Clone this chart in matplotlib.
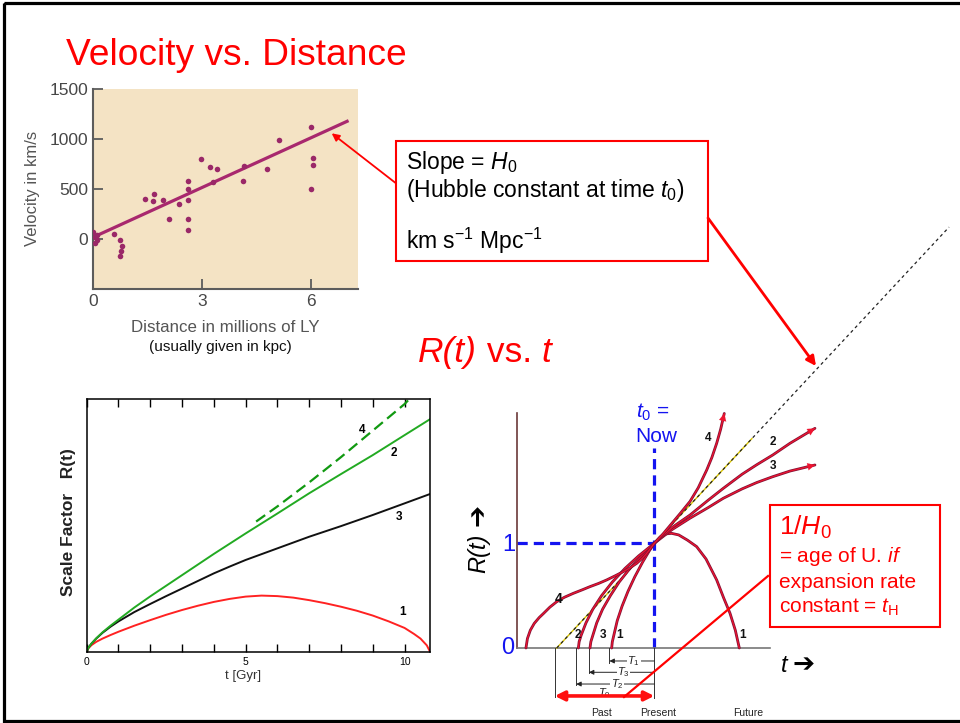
import matplotlib
matplotlib.use("Agg")
import matplotlib.pyplot as plt
import matplotlib.patheffects as pe
from matplotlib.patches import Rectangle

plt.rcParams["font.family"] = ["Liberation Sans", "DejaVu Sans"]
plt.rcParams["mathtext.fontset"] = "custom"
plt.rcParams["mathtext.rm"] = "Liberation Sans"
plt.rcParams["mathtext.it"] = "Liberation Sans:italic"
plt.rcParams["mathtext.bf"] = "Liberation Sans:bold"

# ---------------- Hubble diagram: velocity vs distance ----------------
distance_mly = [0.0, 0.05, 0.1, 0.05, 0.1, 0.57, 0.73, 0.8, 0.77, 0.75,
                1.44, 1.65, 1.68, 1.94, 2.08, 2.37, 2.63, 2.63, 2.63, 2.63,
                2.61, 2.97, 3.21, 3.41, 3.3, 4.17, 4.13, 4.79, 5.11, 6.01,
                6.05, 6.05, 6.01]
velocity_kms = [70, 20, -10, -40, 40, 50, -7, -63, -117, -163,
                403, 383, 450, 393, 203, 353, 587, 500, 393, 207,
                90, 800, 720, 703, 570, 737, 587, 700, 993, 1120,
                817, 743, 503]
fit_distance = [0.0, 7.0]
fit_velocity = [20, 1180]
hubble_xticks = [0, 3, 6]
hubble_yticks = [0, 500, 1000, 1500]

# ---------------- Scale factor vs time (Gyr) ----------------
t_closed = [0, 0.05, 0.15, 0.3, 0.5, 0.75, 1, 1.5, 2, 2.5, 3, 3.5, 4, 4.5, 5, 5.5,
            6, 6.5, 7, 7.5, 8, 8.5, 9, 9.5, 10, 10.3, 10.5, 10.7, 10.8]
R_closed = [0, 0.013, 0.026, 0.039, 0.052, 0.066, 0.079, 0.103, 0.125, 0.146,
            0.165, 0.182, 0.197, 0.209, 0.218, 0.222, 0.220, 0.214, 0.204, 0.192,
            0.178, 0.162, 0.143, 0.12, 0.094, 0.07, 0.052, 0.025, 0.0]
t_open = [0, 0.05, 0.15, 0.3, 0.5, 0.75, 1, 1.5, 2, 2.5, 3, 4, 5, 6, 7, 8, 9, 10, 10.8]
R_open = [0, 0.015, 0.032, 0.053, 0.077, 0.103, 0.127, 0.175, 0.219, 0.261,
          0.303, 0.387, 0.468, 0.547, 0.627, 0.703, 0.778, 0.857, 0.92]
t_flat = [0, 0.05, 0.15, 0.3, 0.5, 0.75, 1, 1.5, 2, 2.5, 3, 3.5, 4, 4.5, 5, 5.5,
          6, 6.5, 7, 7.5, 8, 8.5, 9, 9.5, 10, 10.8]
R_flat = [0, 0.015, 0.032, 0.052, 0.075, 0.099, 0.12, 0.157, 0.189, 0.22,
          0.25, 0.28, 0.31, 0.337, 0.363, 0.386, 0.409, 0.432, 0.455, 0.476,
          0.497, 0.519, 0.541, 0.564, 0.587, 0.624]
t_accel = [5.33, 6, 7, 8, 9, 10, 10.15]
R_accel = [0.515, 0.575, 0.67, 0.77, 0.875, 0.98, 1.0]
gyr_ticks = list(range(0, 11))
gyr_labels = ["0", "", "", "", "", "5", "", "", "", "", "10"]

# ---------------- Schematic R(t): time in units of 1/H0, present at 0 ----------------
c4_t = [-1.315, -1.30, -1.27, -1.23, -1.18, -1.134, -1.07, -1.0, -0.92, -0.83,
        -0.74, -0.659, -0.57, -0.488, -0.40, -0.318, -0.25, -0.18, -0.12, -0.078,
        -0.04, 0.0, 0.09, 0.18, 0.27, 0.366, 0.45, 0.537, 0.59, 0.639, 0.68, 0.717]
c4_R = [0.0, 0.09, 0.17, 0.235, 0.29, 0.331, 0.39, 0.442, 0.485, 0.522,
        0.555, 0.586, 0.617, 0.65, 0.69, 0.729, 0.765, 0.809, 0.86, 0.904,
        0.95, 1.0, 1.09, 1.19, 1.29, 1.40, 1.53, 1.70, 1.82, 1.955, 2.09, 2.24]
c2_t = [-0.778, -0.77, -0.75, -0.70, -0.63, -0.54, -0.43, -0.30, -0.16, 0.0,
        0.18, 0.366, 0.55, 0.707, 0.9, 1.049, 1.213, 1.39, 1.646]
c2_R = [0.0, 0.06, 0.12, 0.24, 0.37, 0.50, 0.63, 0.76, 0.88, 1.0,
        1.15, 1.27, 1.41, 1.525, 1.66, 1.75, 1.843, 1.955, 2.098]
c3_t = [-0.659, -0.65, -0.63, -0.59, -0.53, -0.45, -0.36, -0.25, -0.13, 0.0,
        0.18, 0.366, 0.55, 0.707, 0.9, 1.049, 1.213, 1.39, 1.646]
c3_R = [0.0, 0.06, 0.12, 0.24, 0.37, 0.50, 0.63, 0.76, 0.88, 1.0,
        1.13, 1.24, 1.34, 1.43, 1.52, 1.58, 1.636, 1.69, 1.748]
c1_t = [-0.437, -0.43, -0.415, -0.38, -0.33, -0.27, -0.20, -0.12, -0.05, 0.0,
        0.06, 0.12, 0.178, 0.25, 0.34, 0.434, 0.53, 0.639, 0.71, 0.776, 0.83, 0.871]
c1_R = [0.0, 0.06, 0.12, 0.26, 0.40, 0.54, 0.68, 0.82, 0.93, 1.0,
        1.06, 1.09, 1.095, 1.08, 1.03, 0.968, 0.85, 0.65, 0.48, 0.331, 0.17, 0.0]
tangent_t = [-1.0, 3.02]
tangent_R = [0.0, 4.02]
T_names = ["$T_1$", "$T_3$", "$T_2$", "$T_0$"]
T_values = [0.46, 0.67, 0.80, 1.02]

W, H = 960, 723
fig = plt.figure(figsize=(W / 100, H / 100), dpi=100)


def axes_px(left, top, right, bottom, **kw):
    return fig.add_axes([left / W, 1 - bottom / H, (right - left) / W, (bottom - top) / H], **kw)


# overlay in pixel coordinates for slide text and call-outs
ov = axes_px(0, 0, W, H)
ov.set_xlim(0, W)
ov.set_ylim(H, 0)
ov.axis("off")
ov.set_zorder(10)

renderer = fig.canvas.get_renderer()


def text_run(x, y, pieces, **common):
    """Draw consecutive text pieces on one baseline in the overlay."""
    for s, kw in pieces:
        opts = dict(common)
        opts.update(kw)
        t = ov.text(x, y, s, ha="left", va="baseline", **opts)
        x += t.get_window_extent(renderer).width
    return x


# ---- Hubble diagram ----
ax1 = axes_px(93, 89.3, 358, 289.3)
ax1.set_facecolor("#f4e3c4")
ax1.plot(fit_distance, fit_velocity, color="#a8286e", lw=2.3, zorder=2)
ax1.scatter(distance_mly, velocity_kms, s=16, color="#9a2868", linewidths=0, zorder=3)
ax1.set_xlim(0, 7.3)
ax1.set_ylim(-500, 1500)
ax1.set_xticks(hubble_xticks)
ax1.set_yticks(hubble_yticks)
for side in ("top", "right"):
    ax1.spines[side].set_visible(False)
for side in ("left", "bottom"):
    ax1.spines[side].set_color("#5c5c5c")
    ax1.spines[side].set_linewidth(1.5)
ax1.tick_params(direction="in", length=7, width=1.3, color="#5c5c5c",
                labelsize=12.5, labelcolor="#474747", pad=3.5)
ov.text(32, 188, "Velocity in km/s", rotation=90, ha="center", va="center",
        fontsize=12, color="#555555")
ov.text(225, 328, "Distance in millions of LY", ha="center", va="center",
        fontsize=12.2, color="#555555")
ov.text(220, 347, "(usually given in kpc)", ha="center", va="center",
        fontsize=11, color="#111111")

# ---- Scale factor vs time ----
ax2 = axes_px(86.7, 399, 430, 651.7)
ax2.plot(t_closed, R_closed, color="#ff2222", lw=1.4)
ax2.plot(t_flat, R_flat, color="#111111", lw=1.4)
ax2.plot(t_open, R_open, color="#22aa22", lw=1.4)
ax2.plot(t_accel, R_accel, color="#119911", lw=1.6, dashes=(5, 2.5))
ax2.set_xlim(0, 10.8)
ax2.set_ylim(0, 1)
ax2.set_xticks(gyr_ticks)
ax2.set_xticklabels(gyr_labels)
ax2.set_yticks([])
ax2.tick_params(axis="x", direction="in", length=5.5, width=1, top=True,
                labelsize=7.5, pad=4)
for sp in ax2.spines.values():
    sp.set_linewidth(1.1)
ov.text(243, 676, "t [Gyr]", ha="center", va="center", fontsize=9.5, color="#333333")
ov.text(68, 522, "Scale Factor   R(t)", rotation=90, ha="center", va="center",
        fontsize=12.5, fontweight="bold", color="#222222")
for lbl, (x, y) in zip(["4", "2", "3", "1"], [(362, 430), (394, 453), (399, 517), (403, 612)]):
    ov.text(x, y, lbl, ha="center", va="center", fontsize=8.5, fontweight="bold")

# ---- Schematic R(t) ----
x0px, y0px, sx, sy = 654.3, 648.0, 97.6, 104.7
L, T_, Rr, B = 500, 200, 960, 723
ax3 = axes_px(L, T_, Rr, B)
ax3.set_xlim((L - x0px) / sx, (Rr - x0px) / sx)
ax3.set_ylim((y0px - B) / sy, (y0px - T_) / sy)
ax3.axis("off")
axis_x = (516.7 - x0px) / sx

ax3.plot([axis_x, axis_x], [0, 2.245], color="#6b3838", lw=1.2, clip_on=False)
ax3.plot([axis_x, (770 - x0px) / sx], [0, 0], color="#777777", lw=1.2, clip_on=False)

# Hubble-time tangent line
ax3.plot([tangent_t[0], 1.0], [tangent_R[0], 2.0], color="#d9c400", lw=1.0, zorder=2)
ax3.plot(tangent_t, tangent_R, color="#222222", lw=0.9, dashes=(2.5, 2.5),
         clip_on=False, zorder=3)

# present epoch guides
blue = "#1414f0"
ax3.plot([0, 0], [0, 1.907], color=blue, lw=2.3, dashes=(3.2, 1.9), zorder=1)
ax3.plot([axis_x, 0], [1, 1], color=blue, lw=2.3, dashes=(3.2, 1.9), zorder=1)

red = "#ee1430"
curve_fx = [pe.Stroke(linewidth=2.0, foreground="#801236"), pe.Normal()]
for ct, cR, head in [(c1_t, c1_R, False), (c3_t, c3_R, True),
                     (c2_t, c2_R, True), (c4_t, c4_R, True)]:
    ax3.plot(ct, cR, color=red, lw=0.9, path_effects=curve_fx, zorder=4,
             solid_capstyle="round", solid_joinstyle="round")
    if head:
        ax3.annotate("", xy=(ct[-1], cR[-1]), xytext=(ct[-2], cR[-2]),
                     arrowprops=dict(arrowstyle="-|>", color=red, lw=0.1,
                                     mutation_scale=13, shrinkA=0, shrinkB=0),
                     zorder=5)

# look-back intervals below the axis
drop = [-0.143, -0.239, -0.353, -0.465]
row = [-0.124, -0.232, -0.344, -0.458]
for name, T, d, yrow in zip(T_names, T_values, drop, row):
    ax3.plot([-T, -T], [0, d], color="#333333", lw=0.7, clip_on=False)
    if name != "$T_0$":
        ax3.annotate("", xy=(-T, yrow), xytext=(0, yrow),
                     arrowprops=dict(arrowstyle="-|>", color="#222222", lw=0.7,
                                     mutation_scale=7, shrinkA=0, shrinkB=0),
                     annotation_clip=False)
        ax3.text(-T / 2 + 0.02, yrow, name, ha="center", va="center", fontsize=8,
                 color="#222222",
                 bbox=dict(facecolor="white", edgecolor="none", pad=0.3))
    else:
        ax3.text(-T / 2, yrow + 0.03, name, ha="center", va="center", fontsize=8,
                 color="#222222", zorder=1)
        ax3.annotate("", xy=(-T, yrow), xytext=(0, yrow),
                     arrowprops=dict(arrowstyle="<|-|>", color="#ff1010", lw=2.6,
                                     mutation_scale=14, shrinkA=0, shrinkB=0),
                     annotation_clip=False, zorder=6)
ax3.plot([0, 0], [0, -0.478], color="#333333", lw=0.7, clip_on=False)

for lbl, x in [("Past", 601.7), ("Present", 658), ("Future", 748)]:
    ov.text(x, 713, lbl, ha="center", va="center", fontsize=7.5, color="#222222")

for lbl, (x, y), fs in [("4", (708, 438), 8.5), ("2", (772.7, 441.7), 8.5),
                        ("3", (772.7, 466), 8.5), ("4", (559, 599.3), 10),
                        ("2", (578.3, 635), 8.5), ("3", (603.3, 635), 8.5),
                        ("1", (619.3, 635), 8.5), ("1", (742.7, 635), 8.5)]:
    ov.text(x, y, lbl, ha="center", va="center", fontsize=fs, fontweight="bold",
            color="#111111")

ov.text(653, 412, "$t_0$ =", ha="center", va="center", fontsize=15, color=blue)
ov.text(656, 437, "Now", ha="center", va="center", fontsize=15, color=blue)
ov.text(509, 545, "1", ha="center", va="center", fontsize=17, color=blue)
ov.text(508, 648, "0", ha="center", va="center", fontsize=17, color=blue)

ov.text(479, 553, "R(t)", rotation=90, ha="center", va="center", fontsize=17,
        fontstyle="italic")
ov.text(479, 515, "\u2794", rotation=90, ha="center", va="center", fontsize=19,
        family="DejaVu Sans", fontweight="bold")
ov.text(784, 665, "t", ha="center", va="center", fontsize=17, fontstyle="italic")
ov.text(804, 665, "\u2794", ha="center", va="center", fontsize=19,
        family="DejaVu Sans", fontweight="bold")

# ---- Titles ----
text_run(66, 65, [("Velocity vs. Distance", {})], fontsize=26.7, color="#ff0000")
text_run(418, 362, [("R(t)", {"fontstyle": "italic"}), (" vs. ", {}),
                    ("t", {"fontstyle": "italic"})], fontsize=25.5, color="#ff0000")

# ---- Call-out boxes ----
ov.add_patch(Rectangle((396, 140.7), 312, 120, fill=False, edgecolor="#ff0000", lw=1.5))
ov.text(406, 163, "Slope = $H_0$", ha="left", va="center", fontsize=16.5)
ov.text(406, 191, "(Hubble constant at time $t_0$)", ha="left", va="center", fontsize=16.5)
ov.text(406, 241, "km s$^{-1}$ Mpc$^{-1}$", ha="left", va="center", fontsize=16.5)

ov.add_patch(Rectangle((770, 505), 170, 122, fill=False, edgecolor="#ff0000", lw=1.5))
ov.text(779, 527, "1/$H_0$", ha="left", va="center", fontsize=19, color="#ff0000")
ov.text(779, 557, "= age of U. $\\mathit{if}$", ha="left", va="center", fontsize=15,
        color="#ff0000")
ov.text(779, 582, "expansion rate", ha="left", va="center", fontsize=15, color="#ff0000")
ov.text(779, 607, "constant = $t_\\mathrm{H}$", ha="left", va="center", fontsize=15,
        color="#ff0000")

arrow_kw = dict(arrowstyle="-|>", color="#ff0000", shrinkA=0, shrinkB=0)
ov.annotate("", xy=(331.7, 133.3), xytext=(396, 183.3),
            arrowprops=dict(lw=1.3, mutation_scale=11, **arrow_kw))
ov.annotate("", xy=(816, 366), xytext=(708, 218),
            arrowprops=dict(lw=2.0, mutation_scale=14, **arrow_kw))
ov.plot([768, 624], [576, 697], color="#ff0000", lw=1.6)

# slide frame
ov.add_patch(Rectangle((4, 3.2), 1000, 717.3, fill=False, edgecolor="black",
                       lw=2.3, clip_on=False))

fig.savefig("out.png", dpi=100)
